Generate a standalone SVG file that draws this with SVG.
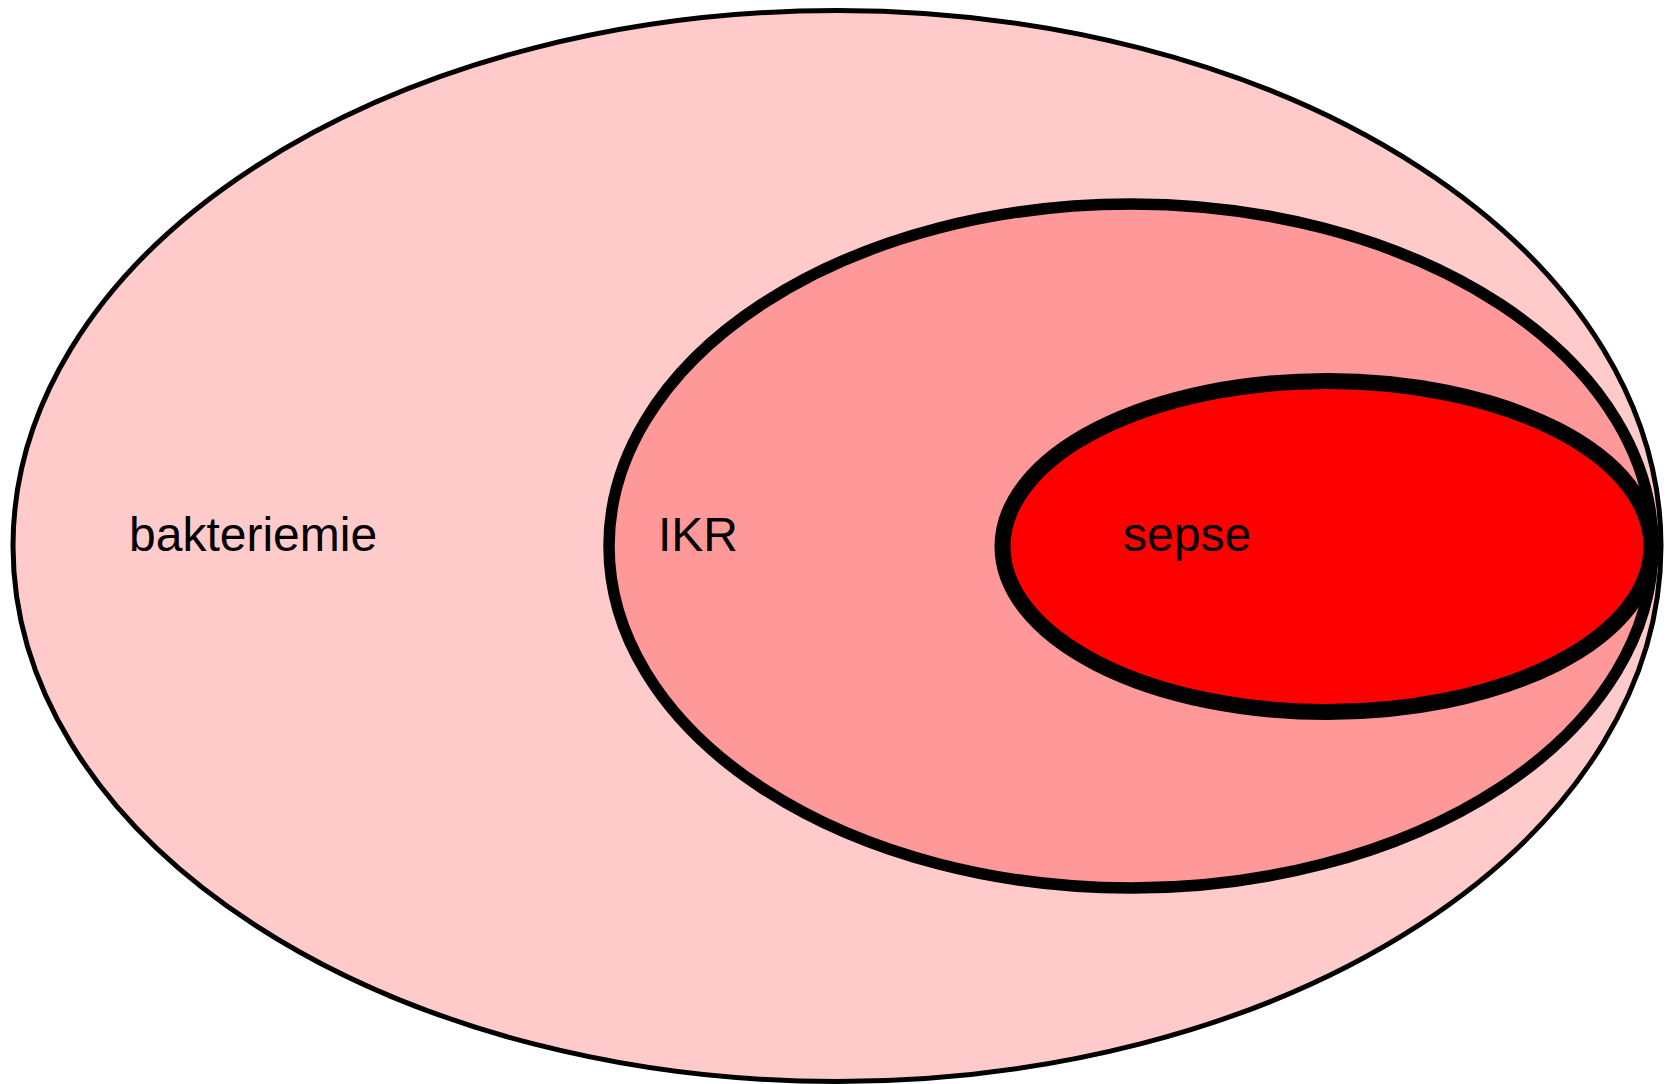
<svg xmlns="http://www.w3.org/2000/svg" width="1674" height="1084" viewBox="0 0 1674 1084">
<style>
.lbl{font-family:"Liberation Sans",Arial,sans-serif;font-size:48px;fill:#000}
</style>
<rect width="1674" height="1084" fill="#fff"/>
<g id="bakteriemie">
<ellipse cx="837" cy="546" rx="824" ry="535.5" fill="#ffcaca" stroke="#000" stroke-width="5"/>
<text class="lbl" x="129" y="551">bakteriemie</text>
</g>
<g id="IKR">
<ellipse cx="1131" cy="546" rx="522" ry="342" fill="#ff9999" stroke="#000" stroke-width="11.5"/>
<text class="lbl" x="658" y="551">IKR</text>
</g>
<g id="sepse">
<ellipse cx="1327" cy="546.5" rx="324.5" ry="165.5" fill="#ff0000" stroke="#000" stroke-width="16"/>
<text class="lbl" x="1123" y="551">sepse</text>
</g>
<g id="connectors"/>
</svg>
